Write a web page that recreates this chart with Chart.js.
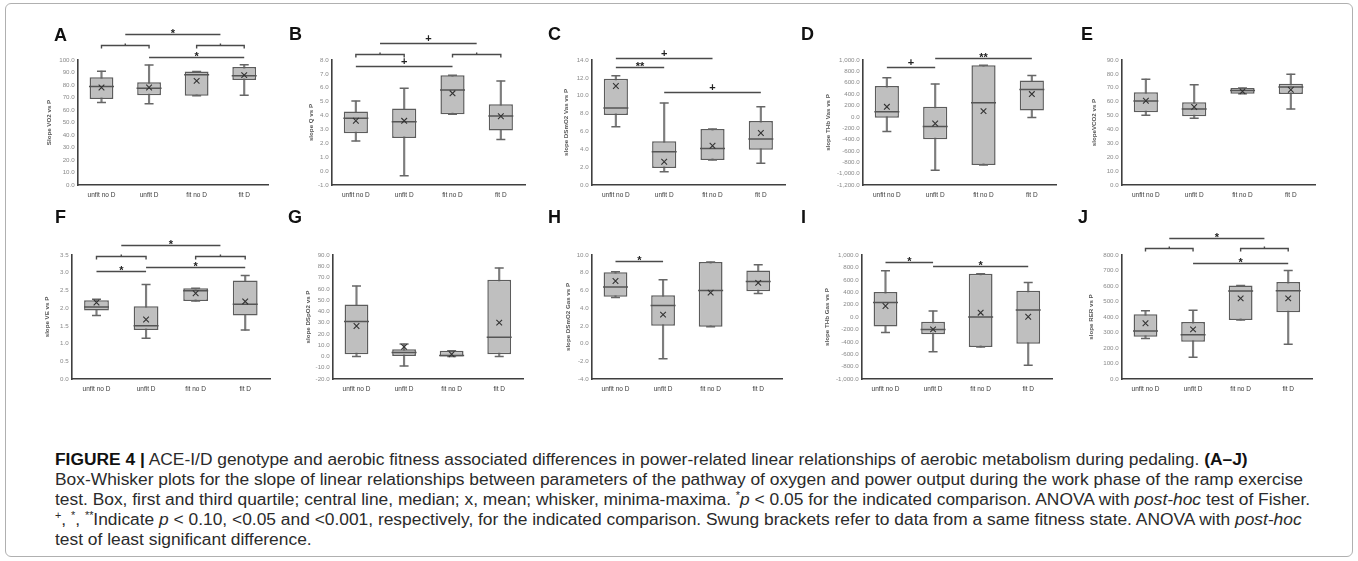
<!DOCTYPE html>
<html><head><meta charset="utf-8">
<script src="https://cdn.jsdelivr.net/npm/chart.js@4.4.1/dist/chart.umd.min.js"></script>
<style>
html,body{margin:0;padding:0;background:#fff;}
body{width:1358px;height:561px;position:relative;overflow:hidden;font-family:"Liberation Sans",Arial,sans-serif;}
.frame{position:absolute;left:5px;top:3px;width:1348px;height:554px;border:1px solid #b0b0b0;border-radius:6px;box-sizing:border-box;}
canvas{position:absolute;}
.letter{position:absolute;font:bold 18px "Liberation Sans",Arial,sans-serif;line-height:18px;color:#111;}
.cap{position:absolute;left:55px;white-space:nowrap;font-family:"Liberation Sans Narrow","Liberation Sans",Arial,sans-serif;font-size:16px;line-height:20px;color:#2b2b2b;transform-origin:0 50%;}
.cap b{color:#111;}
.cap sup{font-size:10px;line-height:0;}
</style></head>
<body>
<div class="frame"></div>
<div id="cap1" class="cap" style="top:450px"><span class="pre"><b>FIGURE 4 |</b> ACE-I/D genotype and aerobic fitness associated differences in powe</span>r-related linear relationships of aerobic metabolism during pedaling. <b>(A–J)</b></div>
<div id="cap2" class="cap" style="top:470px"><span class="pre">Box-Whisker plots for the slope of linear relationships between parameters of the </span>pathway of oxygen and power output during the work phase of the ramp exercise</div>
<div id="cap3" class="cap" style="top:490px"><span class="pre">test. Box, first and third quartile; central line, median; x, mean; whisker, minima-ma</span>xima. <sup>*</sup><i>p</i> &lt; 0.05 for the indicated comparison. ANOVA with <i>post-hoc</i> test of Fisher.</div>
<div id="cap4" class="cap" style="top:510px"><span class="pre"><sup>+</sup>, <sup>*</sup>, <sup>**</sup>Indicate <i>p</i> &lt; 0.10, &lt;0.05 and &lt;0.001, respectively, for the indicated compari</span>son. Swung brackets refer to data from a same fitness state. ANOVA with <i>post-hoc</i></div>
<div id="cap5" class="cap" style="top:530px">test of least significant difference.</div>
<script>
// ---------- data ----------
const categories = ['unfit no D','unfit D','fit no D','fit D'];
const panelIds = ['A','B','C','D','E','F','G','H','I','J'];
const yTitles = ['Slope VO2 vs P','slope Q vs P','slope DSmO2 Vas vs P','slope THb Vas vs P','slopeVCO2 vs P',
                 'slope VE vs P','slope DSpO2 vs P','slope DSmO2 Gas vs P','slope THb Gas vs P','slope RER vs P'];
const yMins  = [0, -1, 0, -1200, 0, 0, -20, -4, -1000, 0];
const yMaxs  = [100, 8, 14, 1000, 90, 3.5, 90, 10, 1000, 800];
const ySteps = [10, 1, 2, 200, 10, 0.5, 10, 2, 200, 100];

// A: slope VO2 vs P
const minA=[66.1,65.0,71.5,71.8], q1A=[68.8,71.8,71.5,84.1], medA=[78.8,77.4,88.2,87.4], q3A=[86.3,82.3,90.9,94.4], maxA=[91.1,96.0,90.9,96.2], meanA=[78.0,78.0,83.3,87.9];
// B: slope Q vs P
const minB=[2.17,-0.33,4.09,2.27], q1B=[2.72,2.39,4.09,2.92], medB=[3.8,3.55,5.84,3.97], q3B=[4.3,4.5,6.9,4.81], maxB=[5.05,5.96,6.9,6.49], meanB=[3.63,3.62,5.6,3.95];
// C: slope DSmO2 Vas vs P
const minC=[6.53,1.49,2.8,2.43], q1C=[7.84,1.9,2.8,3.96], medC=[8.62,3.73,4.1,5.15], q3C=[11.9,4.89,6.27,7.17], maxC=[12.24,9.18,6.27,8.77], meanC=[11.09,2.61,4.4,5.82];
// D: slope THb Vas vs P
const minD=[-259,-941,-847,-12], q1D=[-18,-394,-847,112], medD=[88,-171,247,482], q3D=[541,176,906,641], maxD=[688,576,906,729], meanD=[176,-118,100,400];
// E: slope VCO2 vs P
const minE=[50.2,48.1,65.7,54.8], q1E=[52.4,49.5,65.7,65.5], medE=[60.5,54.8,68.1,70.5], q3E=[66.7,59.5,69.8,72.9], maxE=[76.2,72.1,69.8,79.8], meanE=[60.7,56.2,67.4,68.6];
// F: slope VE vs P
const minF=[1.79,1.15,2.2,1.38], q1F=[1.93,1.38,2.2,1.79], medF=[2.03,1.5,2.49,2.11], q3F=[2.22,2.05,2.56,2.78], maxF=[2.25,2.67,2.56,2.92], meanF=[2.16,1.68,2.42,2.19];
// G: slope DSpO2 vs P
const minG=[0,-8.5,0,0], q1G=[2,0.5,0,2], medG=[31,3.5,0.8,17], q3G=[46,6.5,5,68], maxG=[62.5,11,5,78.5], meanG=[27,8.5,2,30];
// H: slope DSmO2 Gas vs P
const minH=[5.2,-1.7,1.9,5.65], q1H=[5.3,2.0,1.9,5.9], medH=[6.4,4.3,6.0,7.0], q3H=[8.05,5.45,9.2,8.25], maxH=[8.1,7.2,9.2,8.9], meanH=[7.06,3.27,5.75,6.85];
// I: slope THb Gas vs P
const minI=[-250,-560,-485,-780], q1I=[-155,-280,-485,-430], medI=[232,-200,0,113], q3I=[405,-75,697,422], maxI=[746,97,697,557], meanI=[178,-200,70,5];
// J: slope RER vs P
const minJ=[262,140,380,225], q1J=[272,240,380,430], medJ=[310,285,568,570], q3J=[417,368,604,626], maxJ=[440,443,604,700], meanJ=[360,320,520,520];

const mins  = [minA,minB,minC,minD,minE,minF,minG,minH,minI,minJ];
const q1s   = [q1A,q1B,q1C,q1D,q1E,q1F,q1G,q1H,q1I,q1J];
const meds  = [medA,medB,medC,medD,medE,medF,medG,medH,medI,medJ];
const q3s   = [q3A,q3B,q3C,q3D,q3E,q3F,q3G,q3H,q3I,q3J];
const maxs  = [maxA,maxB,maxC,maxD,maxE,maxF,maxG,maxH,maxI,maxJ];
const means = [meanA,meanB,meanC,meanD,meanE,meanF,meanG,meanH,meanI,meanJ];

// significance brackets: [from category, to category, y value, label | 'brace']
const bracketsA=[[0.5,2.5,121,'*'],[0,1,112,'brace'],[2,3,112,'brace'],[1,3,102.4,'*']];
const bracketsB=[[0.5,2.5,9.22,'+'],[0,1,8.43,'brace'],[2,3,8.43,'brace'],[0,2,7.57,'+']];
const bracketsC=[[0,2,14.22,'+'],[0,1,13.21,'**'],[1,3,10.41,'+']];
const bracketsD=[[0,1,876,'+'],[1,3,1036,'**']];
const bracketsE=[];
const bracketsF=[[0.5,2.5,3.78,'*'],[0,1,3.47,'brace'],[2,3,3.47,'brace'],[0,1,3.05,'*'],[1,3,3.16,'*']];
const bracketsG=[];
const bracketsH=[[0,1,9.32,'*']];
const bracketsI=[[0,1,886,'*'],[1,3,821,'*']];
const bracketsJ=[[0.5,2.5,910,'*'],[0,1,845,'brace'],[2,3,845,'brace'],[1,3,748,'*']];
const brackets=[bracketsA,bracketsB,bracketsC,bracketsD,bracketsE,bracketsF,bracketsG,bracketsH,bracketsI,bracketsJ];

// ---------- layout (not data) ----------
const axisX   = [78,332,592,863,1122, 72,333,592,862,1122];
const plotW   = [200,203,203,203,203, 208,200,200,200,200];
const titleOff= [28,20,25,34,27, 24,24,23,34,30];
const letterPos=[[54,41],[289,40],[548,40],[801,40],[1081,40],[55,223],[288,223],[548,223],[801,223],[1078,223]];
const rows = [{top:15,plotTop:60,plotBottom:185},{top:215,plotTop:255,plotBottom:379}];
const XAXIS_H = 22;

Chart.defaults.font.family = '"Liberation Sans", Arial, sans-serif';

const bracketPlugin = {
  id:'brackets',
  afterDatasetsDraw(chart, args, opts){
    const items = opts.items || [];
    const xs = chart.scales.x, ys = chart.scales.y, ctx = chart.ctx;
    ctx.save();
    ctx.strokeStyle = '#4a4a4a'; ctx.lineWidth = 1.4; ctx.fillStyle = '#222';
    ctx.textAlign = 'center'; ctx.textBaseline = 'alphabetic';
    ctx.font = 'bold 11px "Liberation Sans", Arial, sans-serif';
    items.forEach(b => {
      const x1 = xs.getPixelForValue(b[0]), x2 = xs.getPixelForValue(b[1]);
      const yy = Math.round(ys.getPixelForValue(b[2])) + 0.5;
      ctx.beginPath();
      if (b[3] === 'brace') {
        ctx.moveTo(x1, yy + 3); ctx.lineTo(x1, yy); ctx.lineTo(x2, yy); ctx.lineTo(x2, yy + 3);
        const xm = (x1 + x2) / 2; ctx.moveTo(xm, yy); ctx.lineTo(xm, yy - 2);
        ctx.stroke();
      } else {
        ctx.moveTo(x1, yy); ctx.lineTo(x2, yy); ctx.stroke();
        const xm = (x1 + x2) / 2;
        if (b[3] === '+') ctx.fillText('+', xm, yy - 2);
        else ctx.fillText(b[3], xm, yy + 2);
      }
    });
    ctx.restore();
  }
};

function fmt(v){ return Number(v).toLocaleString('en-US',{minimumFractionDigits:1,maximumFractionDigits:1}); }

panelIds.forEach((id, i) => {
  const row = rows[i < 5 ? 0 : 1];
  const W = titleOff[i] + 3.7;
  const left = axisX[i] - W;
  const cw = Math.round(W + plotW[i] + 4);
  const ch = row.plotBottom - row.top + XAXIS_H;
  const cv = document.createElement('canvas');
  cv.width = cw; cv.height = ch;
  cv.style.left = left + 'px'; cv.style.top = row.top + 'px';
  document.body.appendChild(cv);

  const lt = document.createElement('div');
  lt.className = 'letter'; lt.textContent = id;
  lt.style.left = letterPos[i][0] + 'px'; lt.style.top = (letterPos[i][1] - 15) + 'px';
  document.body.appendChild(lt);

  const ptLine = (data, r, color, bw, order) => ({type:'line', data, showLine:false, pointStyle:'line',
      pointRadius:r, pointHoverRadius:r, pointBorderColor:color, pointBorderWidth:bw, borderColor:color, order});

  new Chart(cv, {
    type:'bar',
    data:{
      labels: categories,
      datasets:[
        {type:'bar', data: mins[i].map((v,k)=>[v, maxs[i][k]]), backgroundColor:'#7d7d7d', borderWidth:0,
         maxBarThickness:1.5, grouped:false, categoryPercentage:1, barPercentage:1, order:6},
        {type:'bar', data: q1s[i].map((v,k)=>[v, q3s[i][k]]), backgroundColor:'#bfbfbf', borderColor:'#5c5c5c',
         borderWidth:1.5, borderSkipped:false, grouped:false, categoryPercentage:1, barPercentage:0.5, order:5},
        ptLine(meds[i], 12.5, '#555555', 1.5, 4),
        ptLine(mins[i], 4.5, '#666666', 1.5, 3),
        ptLine(maxs[i], 4.5, '#666666', 1.5, 2),
        {type:'line', data: means[i], showLine:false, pointStyle:'crossRot', pointRadius:4, pointHoverRadius:4,
         pointBorderColor:'#333', pointBorderWidth:1.1, borderColor:'#333', order:1}
      ]
    },
    options:{
      responsive:false, animation:false, devicePixelRatio:1, events:[],
      layout:{padding:{top: row.plotTop - row.top, right:4, bottom:0, left:0}},
      plugins:{legend:{display:false}, tooltip:{enabled:false}, brackets:{items: brackets[i]}},
      scales:{
        x:{type:'category', offset:true,
           grid:{display:false, drawTicks:false},
           border:{display:true, color:'#3f3f3f', width:1.6},
           ticks:{font:{size:6.5}, color:'#3a3a3a', padding:6, maxRotation:0, autoSkip:false},
           afterFit:s=>{s.height = XAXIS_H;}},
        y:{min:yMins[i], max:yMaxs[i],
           grid:{display:false, drawTicks:false},
           border:{display:true, color:'#3f3f3f', width:1.6},
           ticks:{stepSize:ySteps[i], autoSkip:false, font:{size:6.2}, color:'#8a8a8a', padding:3, callback:fmt},
           title:{display:true, text:yTitles[i], font:{size:6.2, weight:'bold'}, color:'#555', padding:0},
           afterFit:s=>{s.width = W;}}
      }
    },
    plugins:[bracketPlugin]
  });
});

// caption: one common horizontal scale, calibrated so that each line's
// prefix ends where the reference's text crosses x = 680
const CAP_LEFT = 55, CROSS_X = 680;
let acc = 0, n = 0;
[1,2,3,4].forEach(k => {
  const pre = document.querySelector('#cap' + k + ' .pre');
  const w = pre.getBoundingClientRect().width;
  acc += (CROSS_X - CAP_LEFT) / w; n++;
});
const capScale = acc / n;
[1,2,3,4,5].forEach(k => {
  document.getElementById('cap' + k).style.transform = 'scaleX(' + capScale + ')';
});
</script>
</body></html>
